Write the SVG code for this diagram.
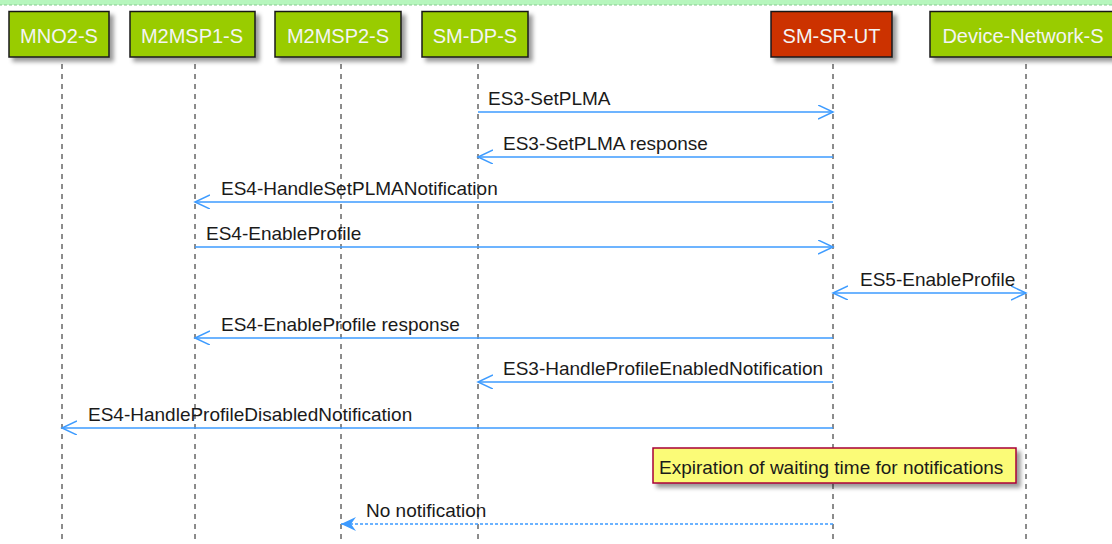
<svg xmlns="http://www.w3.org/2000/svg" width="1112" height="544" viewBox="0 0 1112 544">
<style>
.part{stroke:#181818;stroke-width:1.5}
.green{fill:#99CC00}
.red{fill:#CC3300}
.ptxt{font-family:"Liberation Sans",Arial,sans-serif;font-size:20px;fill:#f4f4f4;text-anchor:middle}
.life{stroke:#181818;stroke-width:1;stroke-dasharray:5,5;fill:none}
.msg{stroke:#3d9bff;stroke-width:1.5;fill:none}
.dash{stroke-dasharray:3,2}
.mtxt{font-family:"Liberation Sans",Arial,sans-serif;font-size:19px;fill:#1a1a1a}
</style>
<defs>
<filter id="sh" x="-20%" y="-20%" width="150%" height="160%">
<feDropShadow dx="4" dy="4" stdDeviation="2" flood-color="#000" flood-opacity="0.4"/>
</filter>
<marker id="open" markerUnits="userSpaceOnUse" markerWidth="18" markerHeight="16" refX="15" refY="7" orient="auto-start-reverse" viewBox="0 0 18 16">
<path d="M0,0 L15,7 L0,14" fill="none" stroke="#3d9bff" stroke-width="1.5"/>
</marker>
<marker id="fill" markerUnits="userSpaceOnUse" markerWidth="18" markerHeight="16" refX="15" refY="7" orient="auto" viewBox="0 0 18 16">
<path d="M0,0 L15,7 L0,14 L5,7 Z" fill="#3d9bff"/>
</marker>
</defs>
<rect width="1112" height="544" fill="#ffffff"/>
<rect x="-2" y="-2" width="1116" height="7" fill="#b6f6bd" stroke="#86cc8e" stroke-width="1" stroke-dasharray="3,2"/>

<g id="lifelines">
<line class="life" x1="62" y1="64" x2="62" y2="544"/>
<line class="life" x1="195" y1="64" x2="195" y2="544"/>
<line class="life" x1="341" y1="64" x2="341" y2="544"/>
<line class="life" x1="478" y1="64" x2="478" y2="544"/>
<line class="life" x1="833" y1="64" x2="833" y2="544"/>
<line class="life" x1="1026" y1="64" x2="1026" y2="544"/>
</g>

<g id="MNO2-S">
<rect class="part green" x="9" y="11.5" width="100" height="45.5" filter="url(#sh)"/>
<text class="ptxt" x="59" y="43">MNO2-S</text>
</g>
<g id="M2MSP1-S">
<rect class="part green" x="130" y="11.5" width="125" height="45.5" filter="url(#sh)"/>
<text class="ptxt" x="192" y="43">M2MSP1-S</text>
</g>
<g id="M2MSP2-S">
<rect class="part green" x="275" y="11.5" width="126" height="45.5" filter="url(#sh)"/>
<text class="ptxt" x="338" y="43">M2MSP2-S</text>
</g>
<g id="SM-DP-S">
<rect class="part green" x="422" y="11.5" width="106" height="45.5" filter="url(#sh)"/>
<text class="ptxt" x="475" y="43">SM-DP-S</text>
</g>
<g id="SM-SR-UT">
<rect class="part red" x="771" y="11.5" width="121" height="45.5" filter="url(#sh)"/>
<text class="ptxt" x="831.5" y="43">SM-SR-UT</text>
</g>
<g id="Device-Network-S">
<rect class="part green" x="930" y="11.5" width="186" height="45.5" filter="url(#sh)"/>
<text class="ptxt" x="1023" y="43">Device-Network-S</text>
</g>

<g id="connectors">
<line class="msg" x1="478" y1="112" x2="833" y2="112" marker-end="url(#open)"/>
<text class="mtxt" x="488" y="105">ES3-SetPLMA</text>
<line class="msg" x1="833" y1="157" x2="478" y2="157" marker-end="url(#open)"/>
<text class="mtxt" x="503" y="150">ES3-SetPLMA response</text>
<line class="msg" x1="833" y1="202" x2="195" y2="202" marker-end="url(#open)"/>
<text class="mtxt" x="221" y="195">ES4-HandleSetPLMANotification</text>
<line class="msg" x1="195" y1="247" x2="833" y2="247" marker-end="url(#open)"/>
<text class="mtxt" x="206" y="240">ES4-EnableProfile</text>
<line class="msg" x1="833" y1="293" x2="1026" y2="293" marker-start="url(#open)" marker-end="url(#open)"/>
<text class="mtxt" x="860" y="286">ES5-EnableProfile</text>
<line class="msg" x1="833" y1="338" x2="195" y2="338" marker-end="url(#open)"/>
<text class="mtxt" x="221" y="331">ES4-EnableProfile response</text>
<line class="msg" x1="833" y1="382" x2="478" y2="382" marker-end="url(#open)"/>
<text class="mtxt" x="503" y="375">ES3-HandleProfileEnabledNotification</text>
<line class="msg" x1="833" y1="428" x2="62" y2="428" marker-end="url(#open)"/>
<text class="mtxt" x="88" y="421">ES4-HandleProfileDisabledNotification</text>
<line class="msg dash" x1="833" y1="524" x2="341" y2="524" marker-end="url(#fill)"/>
<text class="mtxt" x="366" y="517">No notification</text>
</g>

<g id="note">
<rect x="653" y="448" width="363" height="35" fill="#FBFB77" stroke="#A80036" stroke-width="1.5" filter="url(#sh)"/>
<text class="mtxt" x="659" y="474">Expiration of waiting time for notifications</text>
</g>
</svg>
